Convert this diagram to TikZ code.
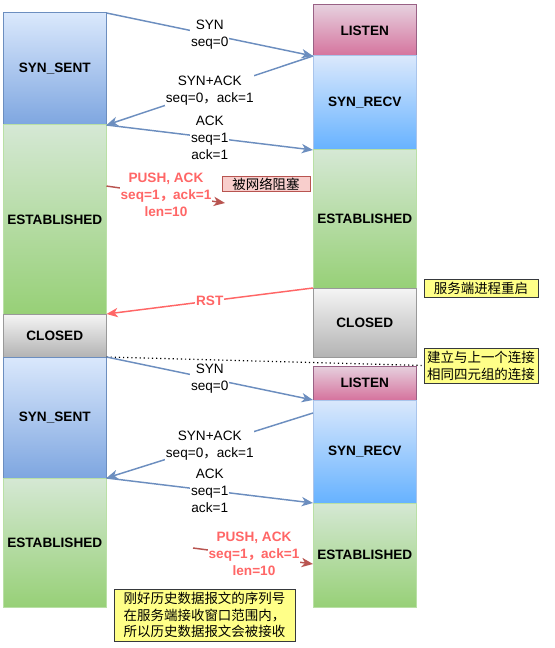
\documentclass[tikz,border=0pt]{standalone}
\usepackage{fontspec}
\setmainfont{Liberation Sans}
\newfontfamily\cjk{Noto Sans CJK SC}
\usetikzlibrary{arrows.meta}
\definecolor{sentTop}{HTML}{DAE8FC}
\definecolor{sentBot}{HTML}{7EA6E0}
\definecolor{sentLine}{HTML}{6C8EBF}
\definecolor{recvBot}{HTML}{66B2FF}
\definecolor{recvLine}{HTML}{A9C4EB}
\definecolor{lisTop}{HTML}{E6D0DE}
\definecolor{lisBot}{HTML}{D5739D}
\definecolor{lisLine}{HTML}{996185}
\definecolor{estTop}{HTML}{D5E8D4}
\definecolor{estBot}{HTML}{97D077}
\definecolor{estLine}{HTML}{B9E0A5}
\definecolor{cloTop}{HTML}{F5F5F5}
\definecolor{cloBot}{HTML}{B3B3B3}
\definecolor{cloLine}{HTML}{999999}
\definecolor{noteFill}{HTML}{FFFF88}
\definecolor{noteLine}{HTML}{36393D}
\definecolor{redFill}{HTML}{F8CECC}
\definecolor{redLine}{HTML}{B85450}
\definecolor{redText}{HTML}{FF6666}
\definecolor{arrowBlue}{HTML}{6C8EBF}
\newcommand{\lblsize}{\fontsize{10.2}{12.75}\selectfont}
\newcommand{\cm}{{\cjk ，}}
\begin{document}
\begin{tikzpicture}[x=0.75pt,y=-0.75pt,
  box/.style={draw, line width=0.75pt, inner sep=0pt, outer sep=0pt, anchor=north west,
    font=\lblsize\bfseries, text=black, minimum width=103.5*0.75pt},
  sent/.style={box, top color=sentTop, bottom color=sentBot, draw=sentLine},
  recv/.style={box, top color=sentTop, bottom color=recvBot, draw=recvLine},
  lis/.style={box, top color=lisTop, bottom color=lisBot, draw=lisLine},
  est/.style={box, top color=estTop, bottom color=estBot, draw=estLine},
  clo/.style={box, top color=cloTop, bottom color=cloBot, draw=cloLine},
  msg/.style={draw=arrowBlue, line width=1.1pt, -{Stealth[length=8.5pt,width=7pt,inset=2.5pt]}},
  rstmsg/.style={msg, draw=redText},
  pushmsg/.style={msg, draw=redLine},
  lbl/.style={fill=white, inner sep=0.5pt, align=center, font=\lblsize, text=black},
  redlbl/.style={lbl, text=redText, font=\lblsize\bfseries},
  note/.style={draw=noteLine, fill=noteFill, line width=0.75pt, inner sep=0pt,
    font=\cjk\fontsize{10.1}{12.6}\selectfont},
  rednote/.style={note, draw=redLine, fill=redFill},
  dots/.style={draw=black, line width=0.9pt, dash pattern=on 0.9pt off 2.2pt}
]
\useasboundingbox (0,0) rectangle (554,648);
% client column
\node[sent, minimum height=112*0.75pt] (ss1) at (3,13) {SYN\_SENT};
\node[est, minimum height=189*0.75pt] (es1) at (3,125) {ESTABLISHED};
\node[clo, minimum height=43*0.75pt] (cl1) at (3,314) {CLOSED};
\node[sent, minimum height=121*0.75pt] (ss2) at (3,357) {SYN\_SENT};
\node[est, minimum height=129*0.75pt] (es2) at (3,478) {ESTABLISHED};
% server column
\node[lis, minimum height=51*0.75pt] (ls1) at (313,5) {LISTEN};
\node[recv, minimum height=94*0.75pt] (sr1) at (313,56) {SYN\_RECV};
\node[est, minimum height=138*0.75pt] (er1) at (313,150) {ESTABLISHED};
\node[clo, minimum height=69*0.75pt] (cr1) at (313,288) {CLOSED};
\node[lis, minimum height=34*0.75pt] (ls2) at (313,366) {LISTEN};
\node[recv, minimum height=103*0.75pt] (sr2) at (313,400) {SYN\_RECV};
\node[est, minimum height=104*0.75pt] (er2) at (313,503) {ESTABLISHED};
% notes
\node[rednote, minimum width=88*0.75pt, minimum height=15*0.75pt] (blk) at (266,184.5) {被网络阻塞};
\node[note, minimum width=114*0.75pt, minimum height=18*0.75pt] (n1) at (481,288) {服务端进程重启};
\node[note, minimum width=114*0.75pt, minimum height=35*0.75pt, align=center] (n2) at (481,365.5) {建立与上一个连接\\相同四元组的连接};
\node[note, minimum width=181*0.75pt, minimum height=52*0.75pt, align=left] (n3) at (204.5,615) {刚好历史数据报文的序列号\\在服务端接收窗口范围内，\\所以历史数据报文会被接收};
% first connection
\draw[msg] (ss1.north east) -- node[lbl] {SYN\\seq=0} (ls1.south west);
\draw[msg] (ls1.south west) -- node[lbl] {SYN+ACK\\seq=0\cm ack=1} (ss1.south east);
\draw[msg] (ss1.south east) -- node[lbl] {ACK\\seq=1\\ack=1} (sr1.south west);
\coordinate (p1e) at (225,203);
\draw[pushmsg] ([yshift=25.1pt]es1.east) -- (p1e);
\node[redlbl] (push1) at (166,195) {PUSH, ACK\\seq=1\cm ack=1\\len=10};
\draw[rstmsg] (cr1.north west) -- node[redlbl] {RST} (cl1.north east);
\draw[dots] (cl1.south east) -- (n2.west);
% second connection
\draw[msg] (ss2.north east) -- node[lbl] {SYN\\seq=0} (ls2.south west);
\draw[msg] ([yshift=-9.75pt]sr2.north west) -- node[lbl] {SYN+ACK\\seq=0\cm ack=1} (ss2.south east);
\draw[msg] (ss2.south east) -- node[lbl] {ACK\\seq=1\\ack=1} (sr2.south west);
\coordinate (p2s) at (193,548);
\draw[pushmsg] (p2s) -- ([yshift=-6.75pt]er2.west);
\node[redlbl] (push2) at (254,554) {PUSH, ACK\\seq=1\cm ack=1\\len=10};
\end{tikzpicture}
\end{document}
